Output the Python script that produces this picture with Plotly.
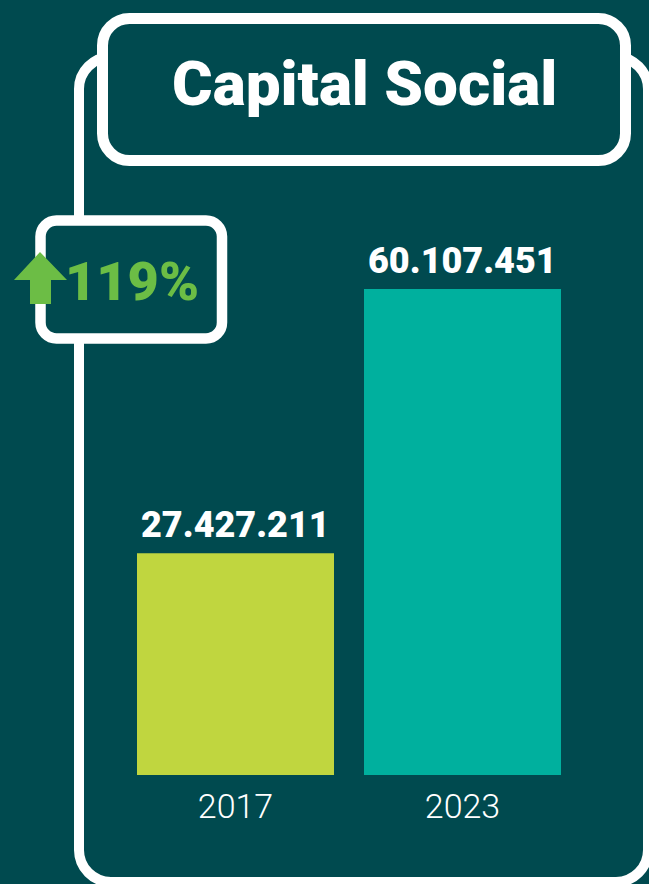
import plotly.graph_objects as go

# ---------------- data ----------------
years = ["2017", "2023"]
values = [27427211, 60107451]
value_labels = ["27.427.211", "60.107.451"]
bar_colors = ["#c0d63f", "#00b09e"]
growth_label = "119%"
title_text = "Capital Social"

# ---------------- style / geometry ----------------
W, H = 649, 884
BG = "#004a4f"
WHITE = "#ffffff"
GREEN = "#6cbd45"
FONT = "Roboto"

bar_center0, bar_pitch, bar_w = 235.5, 227.0, 197.0   # pixels
base_px, top_px_max = 775.0, 289.0                     # baseline, tallest bar top


def px(x):
    return x / W


def py(y):
    return 1 - y / H


def rrect(x0, y0, x1, y1, r):
    k = 0.5523 * r
    P = lambda x, y: f"{px(x):.5f},{py(y):.5f}"
    return (
        f"M {P(x0 + r, y0)} L {P(x1 - r, y0)} "
        f"C {P(x1 - r + k, y0)} {P(x1, y0 + r - k)} {P(x1, y0 + r)} "
        f"L {P(x1, y1 - r)} "
        f"C {P(x1, y1 - r + k)} {P(x1 - r + k, y1)} {P(x1 - r, y1)} "
        f"L {P(x0 + r, y1)} "
        f"C {P(x0 + r - k, y1)} {P(x0, y1 - r + k)} {P(x0, y1 - r)} "
        f"L {P(x0, y0 + r)} "
        f"C {P(x0, y0 + r - k)} {P(x0 + r - k, y0)} {P(x0 + r, y0)} Z"
    )


def poly(points):
    s = "M " + " L ".join(f"{px(x):.5f},{py(y):.5f}" for x, y in points)
    return s + " Z"


fig = go.Figure()
fig.add_trace(
    go.Bar(
        x=years,
        y=values,
        marker=dict(color=bar_colors, line=dict(width=0)),
        hoverinfo="skip",
    )
)

shapes = [
    # outer frame
    dict(type="path", xref="paper", yref="paper",
         path=rrect(79, 57, 648, 882, 32),
         line=dict(color=WHITE, width=10), fillcolor="rgba(0,0,0,0)"),
    # title box
    dict(type="path", xref="paper", yref="paper",
         path=rrect(102.5, 18.5, 625.5, 160.5, 27),
         line=dict(color=WHITE, width=11), fillcolor=BG),
    # growth box
    dict(type="path", xref="paper", yref="paper",
         path=rrect(40.5, 220.5, 222, 338.5, 16),
         line=dict(color=WHITE, width=10.5), fillcolor=BG),
    # arrow
    dict(type="path", xref="paper", yref="paper",
         path=poly([(40, 252), (67, 280), (51, 280), (51, 304),
                    (30, 304), (30, 280), (14, 280)]),
         line=dict(width=0), fillcolor=GREEN),
]

annotations = [
    dict(xref="paper", yref="paper", x=px(364), y=py(83), text=title_text,
         showarrow=False, xanchor="center", yanchor="middle",
         font=dict(family=FONT, size=62, color=WHITE, weight=900)),
    dict(xref="paper", yref="paper", x=px(132), y=py(281), text=growth_label,
         showarrow=False, xanchor="center", yanchor="middle",
         font=dict(family=FONT, size=54, color=GREEN, weight=900)),
]
for i, (v, lab) in enumerate(zip(values, value_labels)):
    annotations.append(
        dict(x=i, y=v, xref="x", yref="y", text=lab, showarrow=False,
             xanchor="center", yanchor="bottom", yshift=5,
             font=dict(family=FONT, size=36, color=WHITE, weight=900))
    )

y_top = max(values) * base_px / (base_px - top_px_max)

fig.update_layout(
    width=W, height=H,
    margin=dict(l=0, r=0, t=0, b=0),
    paper_bgcolor=BG, plot_bgcolor=BG,
    showlegend=False,
    bargap=1 - bar_w / bar_pitch,
    shapes=shapes,
    annotations=annotations,
    xaxis=dict(
        type="category", domain=[0, 1],
        range=[-bar_center0 / bar_pitch, (W - bar_center0) / bar_pitch],
        showgrid=False, zeroline=False, showline=False, ticks="",
        tickfont=dict(family=FONT, size=34, color=WHITE, weight=300),
        ticklabelstandoff=8, fixedrange=True,
    ),
    yaxis=dict(
        domain=[(H - base_px) / H, 1], range=[0, y_top],
        visible=False, showgrid=False, zeroline=False, fixedrange=True,
    ),
)

fig.write_html(
    "out.html",
    config={"displayModeBar": False},
    post_script="document.body.style.margin='0';document.body.style.background='%s';" % BG,
)
